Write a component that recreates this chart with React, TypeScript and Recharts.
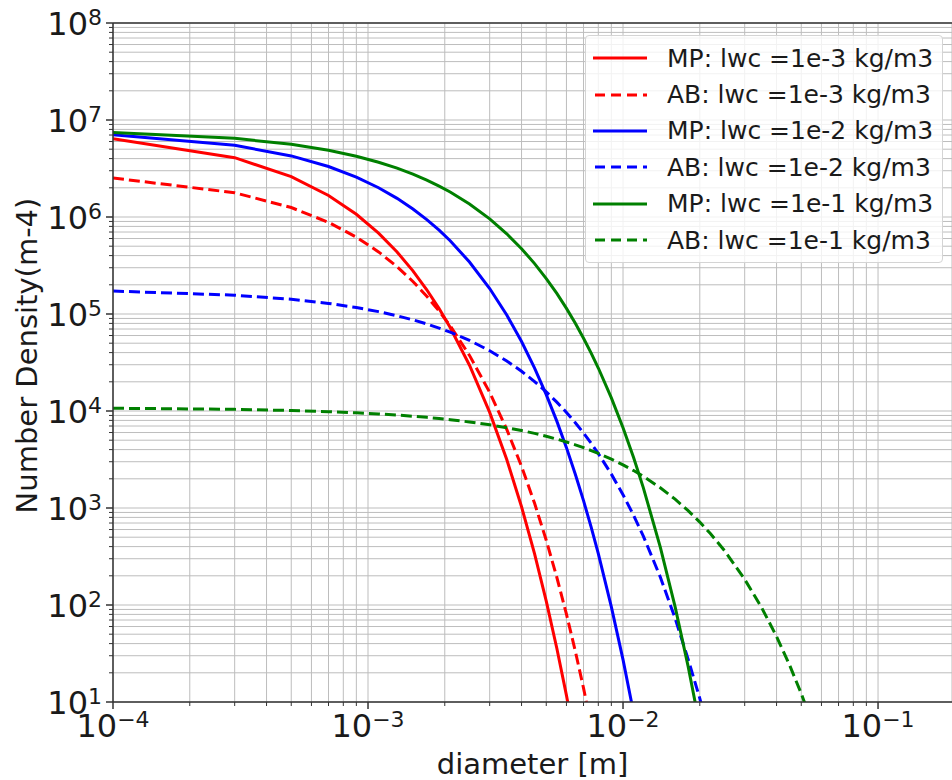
import React from 'react';
import {
  LineChart,
  Line,
  XAxis,
  YAxis,
  CartesianGrid,
  Legend,
  Label,
  ReferenceLine,
} from 'recharts';

// diameters [m] where the curves were read
const diameters = [
  1e-4, 3e-4, 5e-4, 7e-4, 9e-4, 1.1e-3, 1.3e-3, 1.5e-3, 1.7e-3, 1.9e-3, 2.1e-3,
  2.5e-3, 3e-3, 3.5e-3, 4e-3, 4.5e-3, 5e-3, 5.5e-3, 6e-3, 6.5e-3, 7e-3, 7.5e-3, 8e-3,
  9e-3, 1e-2, 1.1e-2, 1.2e-2,
  1.4e-2, 1.6e-2, 1.8e-2, 2e-2, 2.2e-2,
  2.5e-2, 3e-2, 3.5e-2, 4e-2, 4.5e-2, 5e-2, 5.5e-2,
];

// number density (m-4), one value per diameter until the curve leaves the plot
const mpLwc3 = [
  6.395e6, 4.087e6, 2.612e6, 1.669e6, 1.066e6, 6.815e5, 4.356e5, 2.783e5, 1.778e5, 1.137e5, 7.262e4,
  2.966e4, 9.68e3, 3.156e3, 1.03e3, 336, 109.7, 35.8, 11.7, 3.82,
];
const abLwc3 = [
  2.525e6, 1.778e6, 1.252e6, 8.81e5, 6.2e5, 4.367e5, 3.074e5, 2.164e5, 1.523e5, 1.072e5, 7.55e4,
  3.743e4, 1.556e4, 6.46e3, 2.688e3, 1.118e3, 464.7, 193.2, 80.4, 33.4, 13.9, 5.78,
];
const mpLwc2 = [
  7.054e6, 5.484e6, 4.263e6, 3.314e6, 2.576e6, 2.003e6, 1.557e6, 1.21e6, 9.41e5, 7.315e5, 5.686e5,
  3.437e5, 1.831e5, 9.76e4, 5.2e4, 2.77e4, 1.476e4, 7.86e3, 4.19e3, 2.23e3, 1.19e3, 634, 338,
  95.8, 27.3, 7.74,
];
const abLwc2 = [
  1.724e5, 1.563e5, 1.418e5, 1.286e5, 1.166e5, 1.058e5, 9.59e4, 8.7e4, 7.89e4, 7.16e4, 6.49e4,
  5.34e4, 4.18e4, 3.277e4, 2.567e4, 2.011e4, 1.576e4, 1.234e4, 9.67e3, 7.57e3, 5.93e3, 4.65e3, 3.64e3,
  2.234e3, 1.371e3, 841, 516,
  194.5, 73.2, 27.6, 10.9, 4.1,
];
const mpLwc1 = [
  7.453e6, 6.469e6, 5.615e6, 4.873e6, 4.23e6, 3.672e6, 3.187e6, 2.766e6, 2.401e6, 2.084e6, 1.809e6,
  1.363e6, 9.56e5, 6.71e5, 4.71e5, 3.307e5, 2.321e5, 1.629e5, 1.143e5, 8.02e4, 5.63e4, 3.954e4, 2.775e4,
  1.367e4, 6.73e3, 3.32e3, 1.633e3,
  396, 96.2, 23.3, 5.66,
];
const abLwc1 = [
  1.068e4, 1.04e4, 1.012e4, 9.85e3, 9.58e3, 9.33e3, 9.08e3, 8.83e3, 8.6e3, 8.37e3, 8.14e3,
  7.71e3, 7.21e3, 6.73e3, 6.29e3, 5.88e3, 5.49e3, 5.13e3, 4.79e3, 4.48e3, 4.19e3, 3.91e3, 3.65e3,
  3.19e3, 2.785e3, 2.431e3, 2.123e3,
  1.618e3, 1.233e3, 940, 716, 546,
  363, 184, 93.4, 47.4, 24.0, 12.2, 6.18,
];

const seriesNames = [
  'MP: lwc =1e-3 kg/m3',
  'AB: lwc =1e-3 kg/m3',
  'MP: lwc =1e-2 kg/m3',
  'AB: lwc =1e-2 kg/m3',
  'MP: lwc =1e-1 kg/m3',
  'AB: lwc =1e-1 kg/m3',
];

// tick exponents
const xExponents = [-4, -3, -2, -1];
const yExponents = [1, 2, 3, 4, 5, 6, 7, 8];
const minorSteps = [2, 3, 4, 5, 6, 7, 8, 9];

const X_MAX = 0.195;

const xTicks = [
  ...xExponents.map((e) => 10 ** e),
  ...xExponents.flatMap((e) => minorSteps.map((m) => m * 10 ** e)),
].filter((v) => v <= X_MAX);
const yTicks = [
  ...yExponents.map((e) => 10 ** e),
  ...yExponents.slice(0, -1).flatMap((e) => minorSteps.map((m) => m * 10 ** e)),
];

const series = [
  { name: seriesNames[0], values: mpLwc3, color: '#ff0000', dashed: false },
  { name: seriesNames[1], values: abLwc3, color: '#ff0000', dashed: true },
  { name: seriesNames[2], values: mpLwc2, color: '#0000ff', dashed: false },
  { name: seriesNames[3], values: abLwc2, color: '#0000ff', dashed: true },
  { name: seriesNames[4], values: mpLwc1, color: '#008000', dashed: false },
  { name: seriesNames[5], values: abLwc1, color: '#008000', dashed: true },
].map((s) => ({ ...s, data: s.values.map((n, i) => ({ d: diameters[i], n })) }));

const SPINE = '#333333';
const TEXT = '#1a1a1a';
const DASH = '11 5';

const isMajor = (v: number) => {
  const e = Math.log10(v);
  return Math.abs(e - Math.round(e)) < 1e-6;
};

const fmtExp = (e: number) => (e < 0 ? '\u2212' + Math.abs(e) : String(e));

const XTick = ({ x, y, payload }: any) => {
  const major = isMajor(payload.value);
  return (
    <g>
      <line x1={x} x2={x} y1={y} y2={y + (major ? 7 : 4)} stroke={SPINE} strokeWidth={major ? 1.5 : 1} />
      {major && (
        <text x={x} y={y + 35} textAnchor="middle" fontSize={32} fill={TEXT}>
          10
          <tspan dy={-10} fontSize={22}>
            {fmtExp(Math.round(Math.log10(payload.value)))}
          </tspan>
        </text>
      )}
    </g>
  );
};

const YTick = ({ x, y, payload }: any) => {
  const major = isMajor(payload.value);
  return (
    <g>
      <line x1={x - (major ? 7 : 4)} x2={x} y1={y} y2={y} stroke={SPINE} strokeWidth={major ? 1.5 : 1} />
      {major && (
        <text x={x - 11} y={y + 12} textAnchor="end" fontSize={32} fill={TEXT}>
          10
          <tspan dy={-10} fontSize={22}>
            {fmtExp(Math.round(Math.log10(payload.value)))}
          </tspan>
        </text>
      )}
    </g>
  );
};

const YLabel = ({ viewBox }: any) => {
  const cx = 37;
  const cy = viewBox.y + viewBox.height / 2 - 7;
  return (
    <text
      x={cx}
      y={cy}
      transform={`rotate(-90, ${cx}, ${cy})`}
      textAnchor="middle"
      fontSize={29}
      fill={TEXT}
    >
      Number Density(m-4)
    </text>
  );
};

const LegendBox = () => (
  <div
    style={{
      boxSizing: 'border-box',
      width: 358,
      height: 228,
      background: 'rgba(255,255,255,0.8)',
      border: '1px solid #d4d4d4',
      borderRadius: 4,
      padding: '4px 0 0 7px',
      fontFamily: 'DejaVu Sans',
    }}
  >
    {series.map((s) => (
      <div key={s.name} style={{ display: 'flex', alignItems: 'center', height: 36.4 }}>
        <svg width={54} height={8}>
          <line
            x1={s.dashed ? 2 : 0}
            x2={54}
            y1={4}
            y2={4}
            stroke={s.color}
            strokeWidth={3}
            strokeDasharray={s.dashed ? '10 6' : undefined}
          />
        </svg>
        <span style={{ marginLeft: 20, fontSize: 25, color: TEXT, whiteSpace: 'nowrap', lineHeight: 1 }}>
          {s.name}
        </span>
      </div>
    ))}
  </div>
);

export default function App() {
  return (
    <div
      style={{
        position: 'absolute',
        top: 0,
        left: 0,
        width: 952,
        height: 780,
        background: '#fff',
        fontFamily: 'DejaVu Sans',
      }}
    >
      <LineChart width={952} height={780} margin={{ top: 23, right: 0, bottom: 0, left: 0 }}>
        <CartesianGrid stroke="#bdbdbd" strokeWidth={1} />
        <XAxis
          dataKey="d"
          type="number"
          scale="log"
          domain={[1e-4, X_MAX]}
          allowDataOverflow
          ticks={xTicks}
          interval={0}
          height={78}
          tickSize={0}
          tickMargin={0}
          tickLine={false}
          tick={<XTick />}
          axisLine={{ stroke: SPINE, strokeWidth: 1.5 }}
        >
          <Label value="diameter [m]" position="insideBottom" offset={6} fontSize={29} fill={TEXT} />
        </XAxis>
        <YAxis
          type="number"
          scale="log"
          domain={[10, 1e8]}
          allowDataOverflow
          ticks={yTicks}
          interval={0}
          width={113}
          tickSize={0}
          tickMargin={0}
          tickLine={false}
          tick={<YTick />}
          axisLine={{ stroke: SPINE, strokeWidth: 1.5 }}
        >
          <Label content={<YLabel />} />
        </YAxis>
        <ReferenceLine y={1e8} stroke={SPINE} strokeWidth={1.5} ifOverflow="visible" />
        {series.map((s) => (
          <Line
            key={s.name}
            data={s.data}
            dataKey="n"
            name={s.name}
            type="linear"
            stroke={s.color}
            strokeWidth={3}
            strokeDasharray={s.dashed ? DASH : undefined}
            dot={false}
            activeDot={false}
            isAnimationActive={false}
          />
        ))}
        <Legend
          layout="horizontal"
          verticalAlign="middle"
          align="center"
          wrapperStyle={{ top: 35, left: 585, width: 358, height: 228 }}
          content={() => <LegendBox />}
        />
      </LineChart>
    </div>
  );
}
